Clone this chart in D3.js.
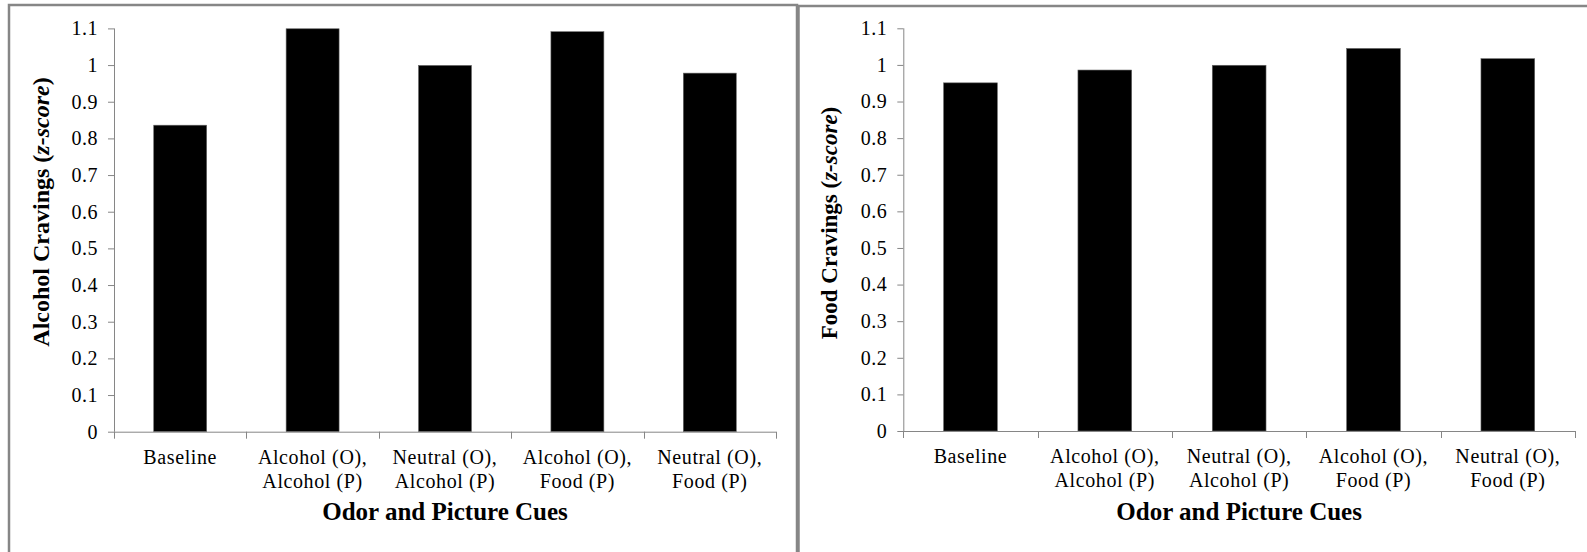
<!DOCTYPE html>
<html>
<head>
<meta charset="utf-8">
<script src="https://cdn.jsdelivr.net/npm/d3@7"></script>
<style>
  body { margin: 0; background: #fff; }
  svg { display: block; }
  svg text { font-family: 'Liberation Serif', 'Times New Roman', serif; }
</style>
</head>
<body>
<svg id="chart" width="1587" height="552"></svg>
<script>
// category labels (two lines each)
const categories = [
    ["Baseline"],
    ["Alcohol (O),", "Alcohol (P)"],
    ["Neutral (O),", "Alcohol (P)"],
    ["Alcohol (O),", "Food (P)"],
    ["Neutral (O),", "Food (P)"]
];
const alcoholCravings = [0.836, 1.099, 0.999, 1.091, 0.978];
const foodCravings = [0.951, 0.986, 0.999, 1.045, 1.017];
const yTicks = [0, 0.1, 0.2, 0.3, 0.4, 0.5, 0.6, 0.7, 0.8, 0.9, 1, 1.1];
const xTitle = "Odor and Picture Cues";

const svg = d3.select("#chart");
const axisColor = "#868686";
const serif = "'Liberation Serif', 'Times New Roman', serif";

// panel frames
svg.append("rect")
    .attr("x", 9).attr("y", 5)
    .attr("width", 788).attr("height", 560)
    .attr("fill", "none")
    .attr("stroke", axisColor)
    .attr("stroke-width", 2.5);
svg.append("rect")
    .attr("x", 798.5).attr("y", 6)
    .attr("width", 800).attr("height", 560)
    .attr("fill", "none")
    .attr("stroke", axisColor)
    .attr("stroke-width", 2.5);

function drawPanel(values, cfg) {
    const g = svg.append("g");

    const x = d3.scaleBand()
        .domain(categories.map((d, i) => i))
        .range([cfg.x0, cfg.x1])
        .paddingInner(0.6)
        .paddingOuter(0.3);

    const y = d3.scaleLinear()
        .domain([0, 1.1])
        .range([cfg.y0, cfg.y1]);

    // y axis
    const yAxis = g.append("g")
        .attr("transform", "translate(" + cfg.x0 + ",0)")
        .call(d3.axisLeft(y).tickValues(yTicks).tickFormat(d => String(d)).tickSize(6).tickPadding(10));
    yAxis.attr("font-family", serif).attr("font-size", 20);
    yAxis.select(".domain").attr("stroke", axisColor).attr("d", "M0.5," + cfg.y1 + "V" + cfg.y0);
    yAxis.selectAll(".tick line").attr("stroke", axisColor);
    yAxis.selectAll(".tick text")
        .attr("fill", "#000")
        .style("font-size", "20px")
        .style("letter-spacing", "0.5px")
        .style("font-family", serif);

    // bars
    g.selectAll("rect.bar")
        .data(values)
        .enter()
        .append("rect")
        .attr("class", "bar")
        .attr("x", (d, i) => x(i))
        .attr("width", x.bandwidth())
        .attr("y", d => y(d))
        .attr("height", d => y(0) - y(d))
        .attr("fill", "#000")
        .attr("stroke", "#666")
        .attr("stroke-width", 0.6);

    // x axis line + boundary ticks
    g.append("line")
        .attr("x1", cfg.x0).attr("x2", cfg.x1)
        .attr("y1", y(0) + 0.5).attr("y2", y(0) + 0.5)
        .attr("stroke", axisColor);
    const bounds = categories.map((d, i) => x(i) - x.step() * 0.3).concat([cfg.x1]);
    g.selectAll("line.xtick")
        .data(bounds)
        .enter()
        .append("line")
        .attr("class", "xtick")
        .attr("x1", d => Math.round(d) + 0.5).attr("x2", d => Math.round(d) + 0.5)
        .attr("y1", y(0)).attr("y2", y(0) + 7)
        .attr("stroke", axisColor);

    // category labels
    const labels = g.selectAll("text.cat")
        .data(categories)
        .enter()
        .append("text")
        .attr("class", "cat")
        .attr("text-anchor", "middle")
        .style("font-size", "20px")
        .style("letter-spacing", "0.6px")
        .style("font-family", serif)
        .attr("fill", "#000");
    labels.each(function(lines, i) {
        const t = d3.select(this);
        lines.forEach((line, j) => {
            t.append("tspan")
                .attr("x", x(i) + x.bandwidth() / 2)
                .attr("y", y(0) + 32 + j * 24)
                .text(line);
        });
    });

    // x title
    g.append("text")
        .attr("x", (cfg.x0 + cfg.x1) / 2)
        .attr("y", 520)
        .attr("text-anchor", "middle")
        .style("font-size", "25px")
        .style("font-weight", "bold")
        .style("font-family", serif)
        .text(xTitle);

    // y title
    const yt = g.append("text")
        .attr("transform", "translate(" + cfg.titleX + "," + cfg.titleY + ") rotate(-90)")
        .attr("text-anchor", "middle")
        .style("font-size", cfg.titleSize + "px")
        .style("font-weight", "bold")
        .style("font-family", serif);
    yt.append("tspan").text(cfg.yTitle + " (");
    yt.append("tspan").style("font-style", "italic").text("z-score");
    yt.append("tspan").text(")");
}

drawPanel(alcoholCravings, {
    x0: 114, x1: 776, y0: 431.7, y1: 28.4,
    titleX: 49, titleY: 212, titleSize: 24, yTitle: "Alcohol Cravings"
});
drawPanel(foodCravings, {
    x0: 903.3, x1: 1575, y0: 431, y1: 28.3,
    titleX: 837, titleY: 223, titleSize: 23, yTitle: "Food Cravings"
});
</script>
</body>
</html>
